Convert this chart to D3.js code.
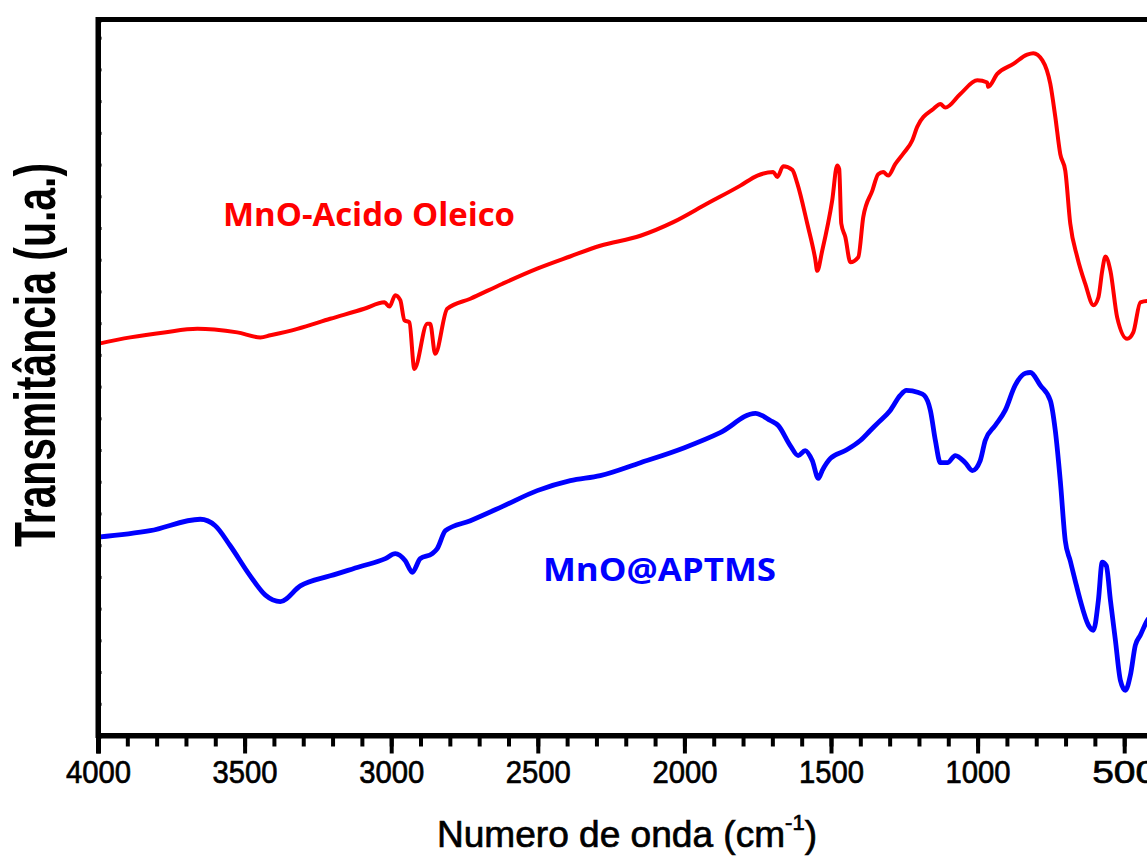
<!DOCTYPE html>
<html>
<head>
<meta charset="utf-8">
<script src="https://cdn.jsdelivr.net/npm/d3@7"></script>
<style>
  html, body { margin: 0; padding: 0; background: #fff; overflow: hidden; }
  svg { display: block; }
</style>
</head>
<body>
<svg id="chart" width="1147" height="856"></svg>
<script>
// ---- data ----
const majorTicks = [4000, 3500, 3000, 2500, 2000, 1500, 1000, 500];
const minorTicks = d3.range(4000, 399, -100);

const seriesNames = ["MnO-Acido Oleico", "MnO@APTMS"];
const seriesColors = ["#ff0000", "#0000ff"];

const redWavenumber = [4000,3890,3774,3661,3603,3525,3446,3412,3320,3208,3092,3023,3006,2986,2969,2955,2938,2921,2877,2867,2850,2809,2730,2620,2502,2390,2287,2150,2038,1922,1809,1751,1697,1683,1663,1632,1615,1581,1554,1547,1530,1496,1479,1472,1465,1451,1434,1407,1390,1359,1339,1322,1305,1281,1253,1223,1206,1151,1127,1110,1059,1001,967,964,933,878,831,810,779,752,735,718,701,684,660,633,605,588,575,564,547,524,490,469,445,421,400];
const redTransmittance = [54.7,55.6,56.3,56.8,56.7,56.3,55.6,55.9,56.8,58.2,59.6,60.5,59.9,61.5,60.8,58.0,57.7,51.2,57.5,57.5,53.3,59.6,61.0,63.1,65.2,66.9,68.4,69.8,71.7,74.3,76.8,78.2,78.7,78.0,79.5,79.0,77.1,71.5,66.6,64.9,67.7,74.7,79.6,79.1,71.5,69.6,66.1,66.8,72.4,76.1,78.4,78.7,78.2,79.8,81.3,83.1,85.0,87.5,88.2,87.7,89.6,91.5,91.2,90.6,92.4,93.8,95.1,95.3,94.3,91.0,86.4,81.2,78.9,71.5,66.8,63.1,60.1,61.2,64.9,66.9,64.9,58.4,55.4,56.3,60.5,60.7,60.5];

const blueWavenumber = [4000,3822,3651,3600,3549,3481,3429,3378,3310,3208,3105,3020,2986,2952,2928,2901,2860,2843,2815,2730,2620,2502,2389,2287,2150,2000,1878,1758,1707,1680,1639,1612,1588,1564,1543,1530,1502,1451,1400,1366,1339,1298,1264,1243,1202,1182,1161,1144,1127,1103,1076,1042,1018,991,974,940,906,872,837,820,786,752,735,718,701,684,667,650,622,605,588,575,561,547,530,513,496,479,462,445,421,400];
const blueTransmittance = [27.7,28.6,30.2,29.3,26.5,22.3,19.6,18.7,20.9,22.3,23.6,24.7,25.4,24.4,22.8,24.7,25.4,26.1,28.6,30.0,32.0,34.2,35.6,36.3,38.1,40.2,42.3,45.0,44.0,43.3,40.5,39.1,39.8,38.4,35.9,37.0,38.7,39.8,41.2,42.6,43.7,45.4,47.5,48.2,47.9,47.5,45.4,41.2,38.1,38.1,39.1,38.1,37.0,38.4,41.2,43.3,45.4,48.9,50.6,50.7,48.9,46.8,42.6,35.6,27.2,24.4,21.6,18.9,15.4,14.7,18.9,24.2,23.7,18.9,13.3,7.7,6.3,8.4,12.6,14.0,16.1,17.0];

const yTickValues = d3.range(4.43, 100, 4.43);

// ---- layout ----
const svg = d3.select("#chart");
const plotLeft = 98, plotTop = 19.5, plotBottom = 735.5;
const pxPer500 = 146.6;
const plotRight = plotLeft + 3600 * pxPer500 / 500;

const x = d3.scaleLinear().domain([4000, 400]).range([plotLeft, plotRight]);
const y = d3.scaleLinear().domain([0, 100]).range([plotBottom, plotTop]);

// frame
svg.append("rect")
  .attr("x", plotLeft).attr("y", plotTop)
  .attr("width", plotRight - plotLeft).attr("height", plotBottom - plotTop)
  .attr("fill", "none").attr("stroke", "#000").attr("stroke-width", 5);

// series lines
const line = d3.line().curve(d3.curveMonotoneX).x(d => x(d[0])).y(d => y(d[1]));
const series = [
  d3.zip(redWavenumber, redTransmittance),
  d3.zip(blueWavenumber, blueTransmittance)
];
series.forEach((pts, i) => {
  svg.append("path")
    .datum(pts)
    .attr("fill", "none")
    .attr("stroke", seriesColors[i])
    .attr("stroke-width", i === 0 ? 4 : 4.8)
    .attr("stroke-linejoin", "round")
    .attr("d", line);
});

// left axis with tiny inward ticks
const yAxis = svg.append("g")
  .attr("transform", `translate(${plotLeft},0)`)
  .call(d3.axisLeft(y).tickValues(yTickValues).tickSize(-3.5).tickFormat(""));
yAxis.select(".domain").attr("stroke-width", 5).attr("stroke", "#000");
yAxis.selectAll(".tick line").attr("stroke-width", 3).attr("stroke", "#000");

// bottom axis minor ticks
const xMinor = svg.append("g")
  .attr("transform", `translate(0,${plotBottom})`)
  .call(d3.axisBottom(x).tickValues(minorTicks).tickSize(11).tickFormat(""));
xMinor.select(".domain").remove();
xMinor.selectAll(".tick line").attr("stroke-width", 4).attr("stroke", "#000");

// bottom axis major ticks + labels
const xAxis = svg.append("g")
  .attr("transform", `translate(0,${plotBottom})`)
  .call(d3.axisBottom(x).tickValues(majorTicks).tickSize(18).tickFormat(d3.format("d")));
xAxis.select(".domain").attr("stroke-width", 5).attr("stroke", "#000");
xAxis.selectAll(".tick line").attr("stroke-width", 4).attr("stroke", "#000");
xAxis.selectAll(".tick text")
  .attr("y", 47.5).attr("dy", 0)
  .attr("fill", "#000")
  .attr("stroke", "#000").attr("stroke-width", 0.7)
  .attr("font-family", "'Liberation Sans', Arial, sans-serif")
  .attr("font-size", 32)
  .attr("textLength", 65)
  .attr("lengthAdjust", "spacingAndGlyphs");

// axis titles
const xTitle = svg.append("text")
  .attr("x", 437).attr("y", 847)
  .attr("font-family", "'Liberation Sans', Arial, sans-serif")
  .attr("font-size", 37)
  .attr("fill", "#000")
  .attr("stroke", "#000").attr("stroke-width", 0.7)
  .attr("textLength", 380)
  .attr("lengthAdjust", "spacingAndGlyphs");
xTitle.append("tspan").text("Numero de onda (cm");
xTitle.append("tspan").attr("font-size", 22).attr("dy", -17).text("-1");
xTitle.append("tspan").attr("dy", 17).text(")");

svg.append("text")
  .attr("transform", "translate(55,355) rotate(-90)")
  .attr("text-anchor", "middle")
  .attr("font-family", "'Liberation Sans', Arial, sans-serif")
  .attr("font-weight", "bold")
  .attr("font-size", 57)
  .attr("fill", "#000")
  .attr("textLength", 384)
  .attr("lengthAdjust", "spacingAndGlyphs")
  .text("Transmitância (u.a.)");

// series labels
const labelPos = [[223, 225.7, 292], [543, 580.7, 233]];
seriesNames.forEach((name, i) => {
  svg.append("text")
    .attr("x", labelPos[i][0]).attr("y", labelPos[i][1])
    .attr("font-family", "'Open Sans', 'Noto Sans', sans-serif")
    .attr("font-weight", "bold")
    .attr("font-size", 33)
    .attr("fill", seriesColors[i])
    .attr("textLength", labelPos[i][2])
    .attr("lengthAdjust", "spacingAndGlyphs")
    .text(name);
});
</script>
</body>
</html>
